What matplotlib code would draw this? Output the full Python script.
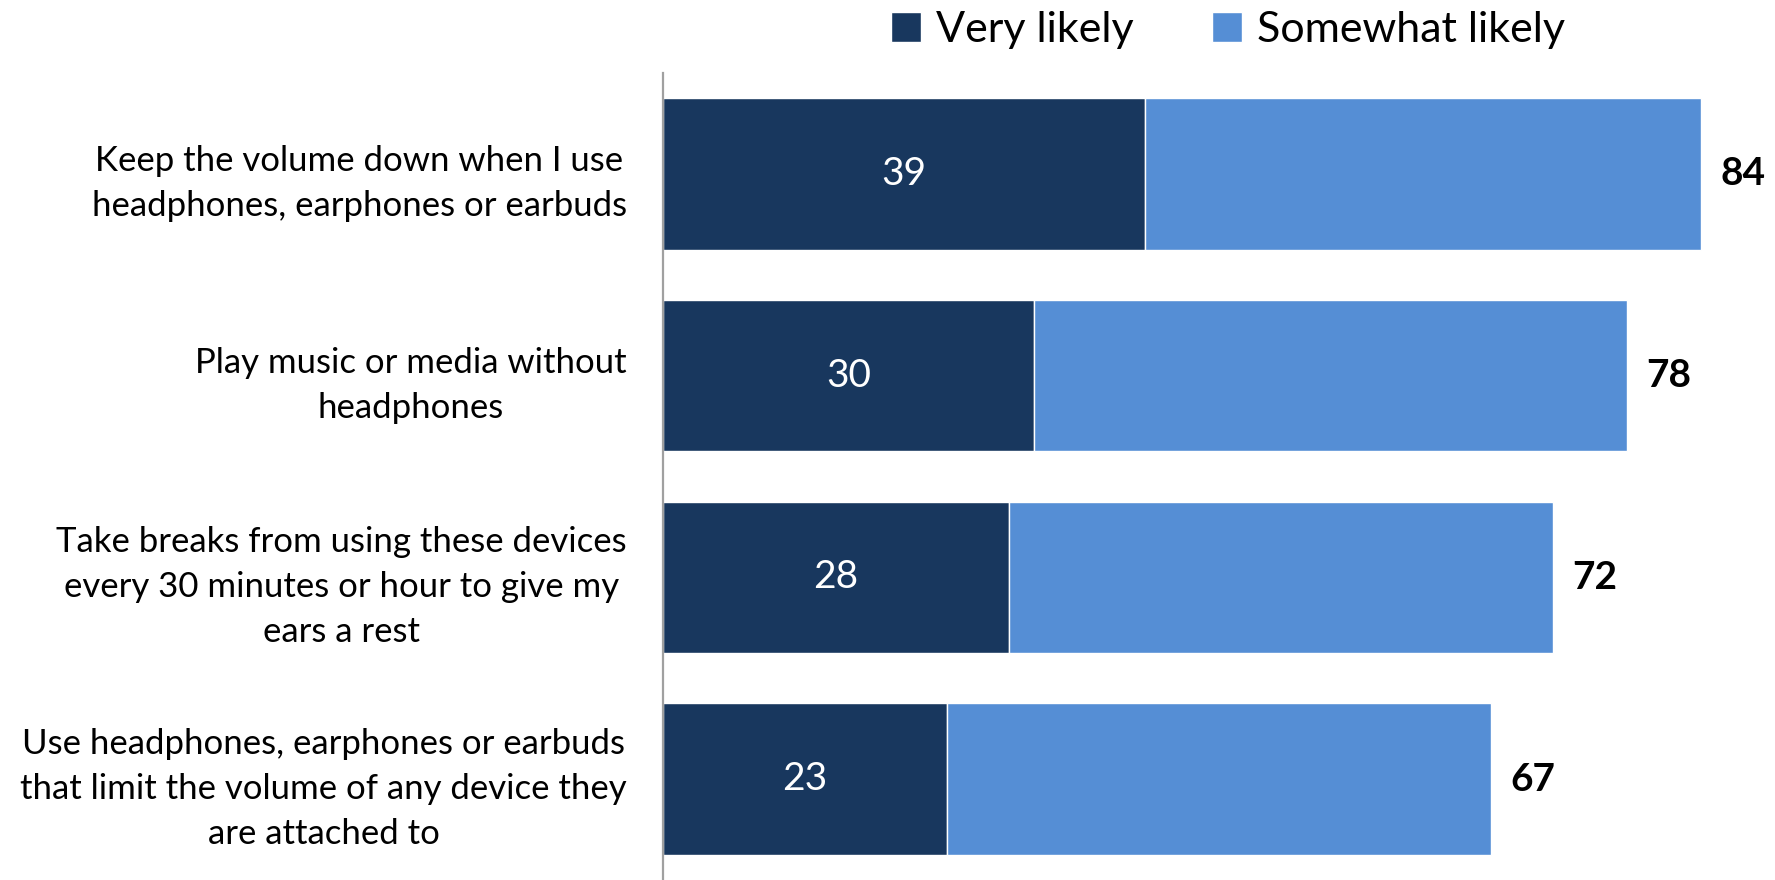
import matplotlib.pyplot as plt

plt.rcParams['font.family'] = ['Lato', 'DejaVu Sans']

categories = [
    "Keep the volume down when I use\nheadphones, earphones or earbuds",
    "Play music or media without\nheadphones",
    "Take breaks from using these devices\nevery 30 minutes or hour to give my\nears a rest",
    "Use headphones, earphones or earbuds\nthat limit the volume of any device they\nare attached to",
]
very_likely = [39, 30, 28, 23]
somewhat_likely = [45, 48, 44, 44]
totals = [84, 78, 72, 67]

dark = '#18375E'
light = '#558ED5'

fig = plt.figure(figsize=(17.75, 8.8), dpi=100)
ax = fig.add_axes([663 / 1775, 0, 1112 / 1775, 807 / 880])

y = list(range(len(categories)))
ax.barh(y, very_likely, height=0.75, color=dark, edgecolor='white', linewidth=1, label='Very likely')
ax.barh(y, somewhat_likely, left=very_likely, height=0.75, color=light, edgecolor='white',
        linewidth=1, label='Somewhat likely')

for i in y:
    ax.text(very_likely[i] / 2, i, str(very_likely[i]), ha='center', va='center',
            color='white', fontsize=28)
    ax.text(totals[i] + 3.4, i, str(totals[i]), ha='center', va='center',
            color='black', fontsize=28, fontweight='bold')

ax.set_xlim(0, 90)
ax.set_ylim(3.5, -0.5)
ax.set_xticks([])
ax.set_yticks(y)
ax.set_yticklabels(categories, fontsize=25, multialignment='center', linespacing=1.5)
ax.tick_params(axis='y', length=0, pad=26)
for side in ['top', 'right', 'bottom']:
    ax.spines[side].set_visible(False)
ax.spines['left'].set_color('#A0A0A0')
ax.spines['left'].set_linewidth(1.6)

fig.legend(loc='center', bbox_to_anchor=(1228 / 1775, 1 - 30 / 880), ncol=2, frameon=False,
           fontsize=31, handlelength=0.7, handleheight=0.7, handletextpad=0.35,
           columnspacing=1.8)

fig.savefig('out.png', dpi=100)
